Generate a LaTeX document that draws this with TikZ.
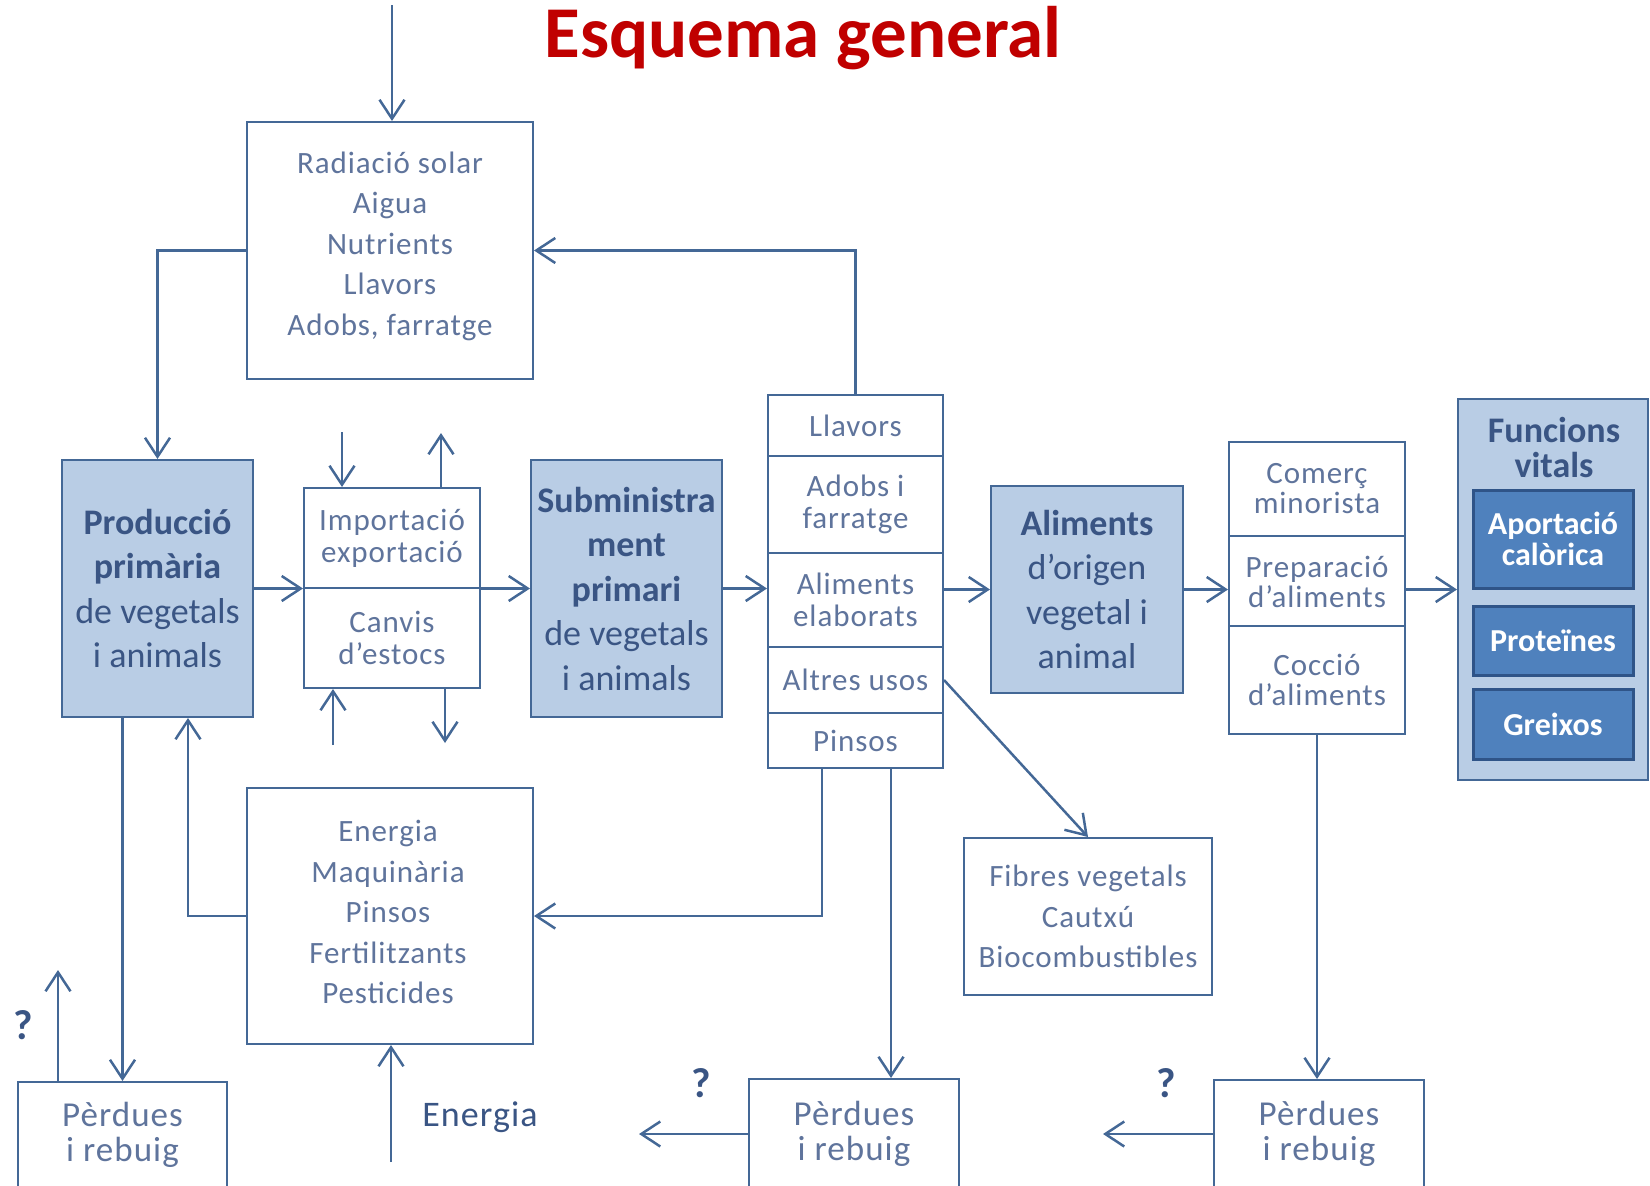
\documentclass[tikz,border=0pt]{standalone}
\usepackage{fontspec}
\setmainfont{Carlito}
\newfontfamily\spc[LetterSpace=3]{Carlito}
\usetikzlibrary{arrows.meta,calc}
\definecolor{lc}{HTML}{446896}
\definecolor{tc}{HTML}{5F749C}
\definecolor{dc}{HTML}{3A5584}
\definecolor{lf}{HTML}{B9CDE5}
\definecolor{df}{HTML}{4F81BD}
\definecolor{db}{HTML}{2F5488}
\definecolor{tr}{HTML}{C00000}
\begin{document}
\begin{tikzpicture}[x=1pt,y=-1pt,
  arr/.style={draw=lc, line width=2.5pt, -{Straight Barb[length=19pt,width=25pt,line width=2.5pt]}},
  wbox/.style={draw=lc, line width=2pt, fill=white, inner sep=0pt, align=center, text=tc,
    font=\spc\fontsize{31}{32}\selectfont},
  wtxt/.style={inner sep=0pt, align=center, text=tc, font=\spc\fontsize{31}{40.5}\selectfont},
  wide/.style={font=\spc\fontsize{31}{40.5}\selectfont},
  bbox/.style={draw=lc, line width=2pt, fill=lf, inner sep=0pt, align=center, text=dc,
    font=\fontsize{36}{44.5}\selectfont},
  dbox/.style={draw=db, line width=3pt, fill=df, inner sep=0pt, align=center, text=white,
    minimum width=160, font=\bfseries\fontsize{32}{31}\selectfont},
  loss/.style={draw=lc, line width=2pt, fill=white, inner sep=0pt, align=center, text=tc,
    font=\spc\fontsize{35}{35}\selectfont},
  qmark/.style={text=dc, font=\bfseries\fontsize{42}{42}\selectfont, anchor=base, inner sep=0pt}
]
\useasboundingbox (0,0) rectangle (1650,1186);

% title
\node[text=tr, font=\bfseries\fontsize{73}{80}\selectfont, anchor=base, inner sep=0pt] (title) at (803,57) {Esquema general};

% inputs box
\node[wbox, minimum width=286, minimum height=257] (rad) at (390,250.5) {};
\node[wtxt] (radtxt) at (390,246) {Radiació solar\\Aigua\\Nutrients\\Llavors\\Adobs, farratge};

% primary production
\node[bbox, minimum width=191, minimum height=257] (prod) at (157.5,588.5)
  {\textbf{Producció}\\\textbf{primària}\\de vegetals\\i animals};

% import / stocks
\node[wbox, minimum width=176, minimum height=100] (imp) at (392,538) {Importació\\exportació};
\node[wbox, minimum width=176, minimum height=100] (estocs) at (392,638) {Canvis\\d’estocs};

% primary supply
\node[bbox, minimum width=191, minimum height=257] (sub) at (626.5,588.5)
  {\textbf{Subministra}\\\textbf{ment}\\\textbf{primari}\\de vegetals\\i animals};

% list of uses
\node[wbox, minimum width=175, minimum height=61] (llavors) at (855.5,425.5) {Llavors};
\node[wbox, minimum width=175, minimum height=97] (adobs) at (855.5,504.5) {Adobs i\\farratge};
\node[wbox, minimum width=175, minimum height=94] (alimel) at (855.5,600) {Aliments\\elaborats};
\node[wbox, minimum width=175, minimum height=66] (altres) at (855.5,680) {Altres usos};
\node[wbox, minimum width=175, minimum height=55] (pinsos) at (855.5,740.5) {Pinsos};

% foods of vegetable and animal origin
\node[bbox, minimum width=192, minimum height=207] (orig) at (1087,589.5)
  {\textbf{Aliments}\\d’origen\\vegetal i\\animal};

% retail / preparation / cooking
\node[wbox, minimum width=176, minimum height=94, font=\spc\fontsize{31}{30}\selectfont] (comerc) at (1317,489) {Comerç\\minorista};
\node[wbox, minimum width=176, minimum height=92, font=\spc\fontsize{31}{30}\selectfont] (prep) at (1317,582) {Preparació\\d’aliments};
\node[wbox, minimum width=176, minimum height=108, font=\spc\fontsize{31}{30}\selectfont] (coccio) at (1317,680) {Cocció\\d’aliments};

% vital functions
\node[draw=lc, line width=2pt, fill=lf, inner sep=0pt, minimum width=190, minimum height=381] (fv) at (1553,589.5) {};
\node[text=dc, font=\bfseries\fontsize{36}{35}\selectfont, align=center, inner sep=0pt] (fvt) at (1554,447) {Funcions\\vitals};
\node[dbox, minimum height=98] (apo) at (1553,539) {Aportació\\calòrica};
\node[dbox, minimum height=69] (prot) at (1553,640.5) {Proteïnes};
\node[dbox, minimum height=70] (grei) at (1553,724) {Greixos};

% energy inputs
\node[wbox, minimum width=286, minimum height=256] (en) at (390,916) {};
\node[wtxt] (entxt) at (388,912) {Energia\\Maquinària\\Pinsos\\Fertilitzants\\Pesticides};

% other products
\node[wbox, wide, minimum width=248, minimum height=157] (fib) at (1088,916.5)
  {Fibres vegetals\\Cautxú\\Biocombustibles};

% losses
\node[loss, minimum width=209, minimum height=106] (p1) at (122.5,1135) {Pèrdues\\i rebuig};
\node[loss, minimum width=210, minimum height=109] (p2) at (854,1133.5) {Pèrdues\\i rebuig};
\node[loss, minimum width=210, minimum height=108] (p3) at (1319,1134) {Pèrdues\\i rebuig};

% labels
\node[text=dc, font=\spc\fontsize{36}{36}\selectfont, anchor=base, inner sep=0pt] (enlab) at (480,1126) {Energia};
\node[qmark] (qa) at (23,1039) {?};
\node[qmark] (qb) at (701,1097) {?};
\node[qmark] (qc) at (1166,1097) {?};

% free ends
\coordinate (sun) at (392,5);
\coordinate (c1) at (342,432);
\coordinate (c2) at (441,433);
\coordinate (c3) at (333,745);
\coordinate (c4) at (445,743);
\coordinate (ensrc) at (391,1162);
\coordinate (q1) at (58,970);
\coordinate (q2) at (639,1134);
\coordinate (q3) at (1103,1134);
\coordinate (pa) at ($(pinsos.south)+(-33.5,0)$);
\coordinate (pb) at ($(pinsos.south)+(35.5,0)$);
\coordinate (pr) at ($(prod.south)+(30.5,0)$);

% connectors
\draw[arr] (sun) -- (sun |- rad.north);
\draw[arr] (rad.west) -| (prod.north);
\draw[arr] (llavors.north) |- (rad.east);
\draw[arr] (prod.east) -- (prod.east -| imp.west);
\draw[arr] (prod.east -| imp.east) -- (prod.east -| sub.west);
\draw[arr] (sub.east) -- (sub.east -| alimel.west);
\draw[arr] (orig.west -| alimel.east) -- (orig.west);
\draw[arr] (orig.east) -- (orig.east -| prep.west);
\draw[arr] (orig.east -| prep.east) -- (orig.east -| fv.west);

\draw[arr] (c1) -- (c1 |- imp.north);
\draw[arr] (c2 |- imp.north) -- (c2);
\draw[arr] (c3) -- (c3 |- estocs.south);
\draw[arr] (c4 |- estocs.south) -- (c4);

\draw[arr] (prod.south -| p1.north) -- (p1.north);
\draw[arr] (en.west) -| (pr);
\draw[arr] (pa) |- (en.east);
\draw[arr] (pb) -- (pb |- p2.north);
\draw[arr] (altres.east) -- (fib.north);
\draw[arr] (coccio.south) -- (coccio.south |- p3.north);
\draw[arr] (ensrc) -- (ensrc |- en.south);
\draw[arr] (q1 |- p1.north) -- (q1);
\draw[arr] (q2 -| p2.west) -- (q2);
\draw[arr] (q3 -| p3.west) -- (q3);
\end{tikzpicture}
\end{document}
